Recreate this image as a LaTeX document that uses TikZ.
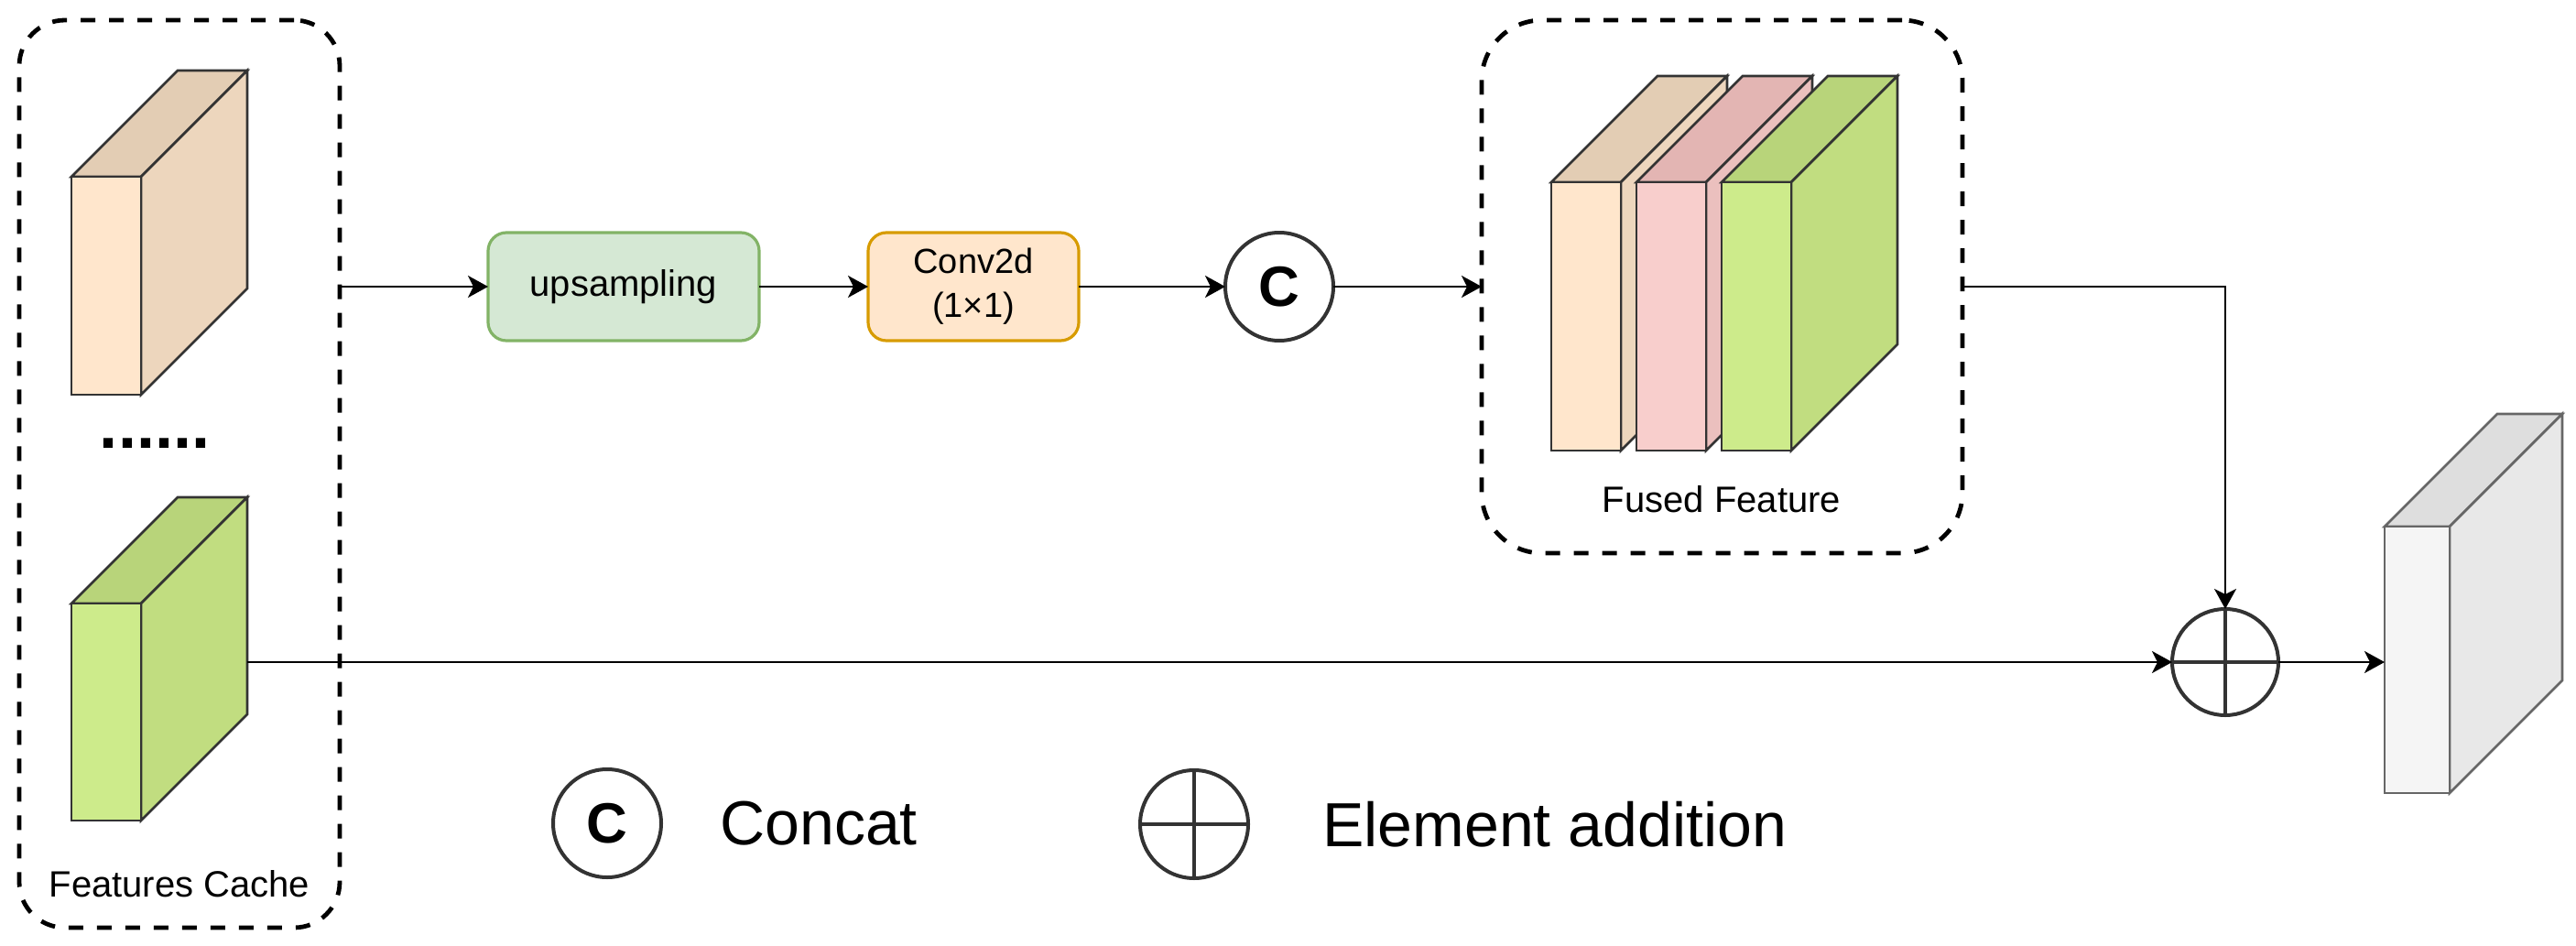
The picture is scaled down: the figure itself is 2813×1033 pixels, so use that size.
\documentclass[tikz,border=0pt]{standalone}
\usepackage{fontspec}
\setmainfont{Liberation Sans}
\usetikzlibrary{arrows.meta}
\definecolor{orF}{HTML}{FFE6CC}\definecolor{orS}{HTML}{EDD6BD}\definecolor{orT}{HTML}{E3CDB4}
\definecolor{gnF}{HTML}{CDEB8B}\definecolor{gnS}{HTML}{C1DD80}\definecolor{gnT}{HTML}{B8D47A}
\definecolor{pkF}{HTML}{F8CECC}\definecolor{pkS}{HTML}{EBC0BE}\definecolor{pkT}{HTML}{E3B5B3}
\definecolor{gyF}{HTML}{F5F5F5}\definecolor{gyS}{HTML}{E8E8E8}\definecolor{gyT}{HTML}{DEDEDE}
\definecolor{upF}{HTML}{D5E8D4}\definecolor{upD}{HTML}{82B366}
\definecolor{cvF}{HTML}{FFE6CC}\definecolor{cvD}{HTML}{D79B00}
\definecolor{edge}{HTML}{333333}
\newcommand\featcube[7]{%
  \filldraw[fill=#6T,draw=#7,cubeline] (#1,#2) -- ++(#5,-#5) -- ++(#3,0) -- ++(-#5,#5) -- cycle;
  \filldraw[fill=#6S,draw=#7,cubeline] ({#1+#3},#2) -- ++(#5,-#5) -- ++(0,#4) -- ++(-#5,#5) -- cycle;
  \filldraw[fill=#6F,draw=#7,cubeline] (#1,#2) rectangle ++(#3,#4);
}
\tikzset{
  cubeline/.style={line width=1.3pt,line join=miter},
  arr/.style={line width=1.2pt,-{Stealth[length=11pt,width=12pt,inset=3pt]}},
  conn/.style={line width=1.2pt},
  dashbox/.style={draw,line width=2.4pt,dash pattern=on 8pt off 7.5pt,inner sep=0pt,outer sep=0pt},
  opbox/.style={draw,rounded corners=10pt,line width=1.6pt,inner sep=0pt,outer sep=0pt,
                minimum width=148pt,minimum height=59pt,align=center,
                font=\fontsize{20}{23}\selectfont},
  opcirc/.style={draw=edge,circle,line width=2pt,minimum size=59pt,inner sep=0pt,outer sep=0pt,
                 font=\fontsize{31}{31}\bfseries\selectfont},
  lbl/.style={inner sep=0pt,font=\fontsize{20}{24}\selectfont},
  legend/.style={inner sep=0pt,anchor=west,font=\fontsize{34}{40}\selectfont},
}
\begin{document}
\begin{tikzpicture}[x=0.5pt,y=-0.5pt]
\useasboundingbox (0,0) rectangle (2813,1033);

% Features cache box
\node[dashbox,rounded corners=25pt,minimum width=175pt,minimum height=495.5pt] (cache) at (196,517.5) {};
\featcube{78}{193}{76}{238}{116}{or}{edge}
\node[inner sep=0pt,font=\fontsize{36}{36}\bfseries\selectfont] (dots) at (169,484) {......};
\featcube{78}{659}{76}{237}{116}{gn}{edge}
\coordinate (gcube) at (270,723);
\node[lbl] (cachelbl) at (196,965) {Features Cache};

% operations
\node[opbox,fill=upF,draw=upD] (up) at (681,313) {upsampling};
\node[opbox,fill=cvF,draw=cvD,minimum width=115pt,font=\fontsize{19}{24}\selectfont] (conv) at (1063,313) {Conv2d\\(1×1)};
\node[opcirc] (cat) at (1397,313) {C};

% fused feature box
\node[dashbox,rounded corners=33pt,minimum width=262.5pt,minimum height=291pt] (fused) at (1880.5,313) {};
\featcube{1694}{199}{76}{293}{116}{or}{edge}
\featcube{1787}{199}{76}{293}{116}{pk}{edge}
\featcube{1880}{199}{76}{293}{116}{gn}{edge}
\node[lbl] (fusedlbl) at (1880,545) {Fused Feature};

% addition
\node[draw=edge,circle,line width=2pt,minimum size=58pt,inner sep=0pt,outer sep=0pt] (add) at (2430,723) {};
\draw[edge,line width=2pt] (add.north) -- (add.south) (add.west) -- (add.east);

% output cube
\featcube{2604}{575}{71}{291}{123}{gy}{black!60}
\coordinate (outf) at (2604,723);

% connectors
\draw[arr] (cache.east |- up.west) -- (up.west);
\draw[arr] (up.east) -- (conv.west);
\draw[arr] (conv.east) -- (cat.west);
\draw[arr] (cat.east) -- (fused.west);
\draw[arr] (fused.east) -| (add.north);
\draw[arr] (gcube) -- (add.west);
\draw[arr] (add.east) -- (outf);

% legend
\node[opcirc] (lgcat) at (663,899) {C};
\node[legend] (lgcattxt) at (786,899) {Concat};
\node[draw=edge,circle,line width=2pt,minimum size=59pt,inner sep=0pt,outer sep=0pt] (lgadd) at (1304,900) {};
\draw[edge,line width=2pt] (lgadd.north) -- (lgadd.south) (lgadd.west) -- (lgadd.east);
\node[legend] (lgaddtxt) at (1444,900) {Element addition};
\end{tikzpicture}
\end{document}
